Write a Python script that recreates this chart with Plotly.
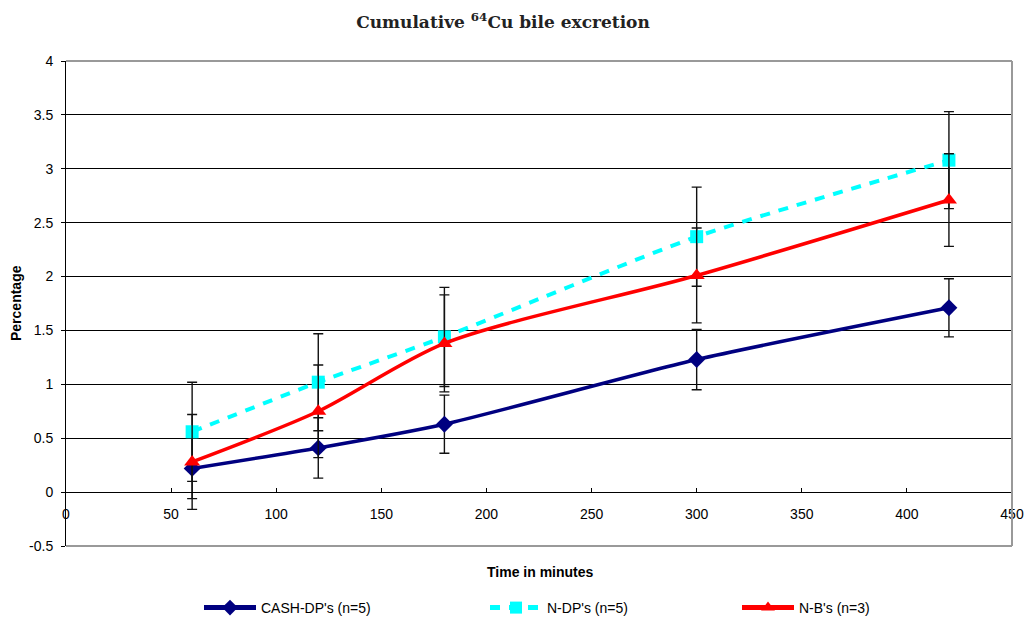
import plotly.graph_objects as go

time_min = [60, 120, 180, 300, 420]

cash_dp = [0.22, 0.41, 0.63, 1.23, 1.71]
cash_dp_err = [0.28, 0.28, 0.27, 0.28, 0.27]

n_dp = [0.56, 1.02, 1.44, 2.37, 3.08]
n_dp_err = [0.46, 0.45, 0.46, 0.46, 0.45]

n_b = [0.28, 0.75, 1.38, 2.01, 2.71]
n_b_err = [0.44, 0.43, 0.45, 0.44, 0.43]

names = ["CASH-DP's (n=5)", "N-DP's (n=5)", "N-B's (n=3)"]

y_tickvals = [-0.5, 0, 0.5, 1, 1.5, 2, 2.5, 3, 3.5, 4]
y_ticktext = ["-0.5", "0", "0.5", "1", "1.5", "2", "2.5", "3", "3.5", "4"]

W, H = 1024, 619
L, R, T, B = 66, 12, 61, 73

fig = go.Figure()

err_style = dict(type="data", visible=True, color="#111111", thickness=1.4, width=5)

fig.add_trace(go.Scatter(
    x=time_min, y=cash_dp, name=names[0], mode="lines+markers",
    line=dict(color="#000080", width=3.5, shape="spline", smoothing=0.6),
    marker=dict(symbol="diamond", size=13, color="#000080"),
    error_y=dict(array=cash_dp_err, **err_style), legend="legend", showlegend=True))

fig.add_trace(go.Scatter(
    x=time_min, y=n_dp, name=names[1], mode="lines+markers",
    line=dict(color="#00FFFF", width=4, dash="10px,9px", shape="spline", smoothing=0.6),
    marker=dict(symbol="square", size=13, color="#00FFFF"),
    error_y=dict(array=n_dp_err, **err_style), legend="legend2", showlegend=True))

fig.add_trace(go.Scatter(
    x=time_min, y=n_b, name=names[2], mode="lines+markers",
    line=dict(color="#FF0000", width=3.5, shape="spline", smoothing=0.8),
    marker=dict(symbol="triangle-up", size=14, color="#FF0000"),
    error_y=dict(array=n_b_err, **err_style), legend="legend3", showlegend=True))

pw = W - L - R
ph = H - T - B

def px_x(p):
    return (p - L) / pw

def px_y(p):
    return (H - B - p) / ph

leg_common = dict(orientation="h", yanchor="middle", y=px_y(608), xanchor="left",
                  font=dict(family="Liberation Sans, Arial", size=14, color="#000"),
                  bgcolor="rgba(0,0,0,0)", itemsizing="constant", tracegroupgap=0,
                  itemwidth=52, visible=True)

fig.update_layout(
    width=W, height=H,
    showlegend=True,
    margin=dict(l=L, r=R, t=T, b=B, autoexpand=False),
    paper_bgcolor="white", plot_bgcolor="white",
    font=dict(family="Liberation Sans, Arial", size=14, color="#000"),
    title=dict(text="Cumulative <sup>64</sup>Cu bile excretion",
               font=dict(family="DejaVu Serif", size=17, color="#222", weight="bold"),
               x=503 / W, xanchor="center", xref="container",
               y=1 - 22 / H, yanchor="middle", yref="container"),
    legend=dict(x=px_x(199), **leg_common),
    legend2=dict(x=px_x(485), **leg_common),
    legend3=dict(x=px_x(737), **leg_common),
    xaxis=dict(range=[0, 450], dtick=50, tick0=0, showgrid=False, zeroline=False,
               showline=True, linecolor="#000", linewidth=1,
               ticks="inside", ticklen=4, tickcolor="#000",
               anchor="free", position=(0 - (-0.5)) / 4.5,
               ticklabelstandoff=9,
               tickfont=dict(size=14)),
    yaxis=dict(range=[-0.5, 4], tickvals=y_tickvals, ticktext=y_ticktext,
               showgrid=True, gridcolor="#000",
               gridwidth=1, zeroline=False, showline=True, linecolor="#000", linewidth=1,
               ticks="outside", ticklen=4, tickcolor="#000",
               ticklabelstandoff=5,
               tickfont=dict(size=14)),
    annotations=[
        dict(text="<b>Time in minutes</b>", xref="paper", yref="paper",
             x=px_x(540), y=px_y(572), showarrow=False, xanchor="center", yanchor="middle",
             font=dict(size=14)),
        dict(text="<b>Percentage</b>", xref="paper", yref="paper",
             x=px_x(16), y=px_y(303), showarrow=False, xanchor="center", yanchor="middle",
             textangle=-90, font=dict(size=14)),
    ],
    shapes=[
        dict(type="line", xref="paper", yref="paper", x0=0, x1=1, y0=1, y1=1,
             line=dict(color="#999", width=2), layer="above"),
        dict(type="line", xref="paper", yref="paper", x0=0, x1=1, y0=0, y1=0,
             line=dict(color="#999", width=2), layer="above"),
        dict(type="line", xref="paper", yref="paper", x0=1, x1=1, y0=0, y1=1,
             line=dict(color="#999", width=2), layer="above"),
    ],
)

fig.write_html("out.html", config={"displayModeBar": False},
               post_script="document.body.style.margin='0px';document.body.style.overflow='hidden';")
